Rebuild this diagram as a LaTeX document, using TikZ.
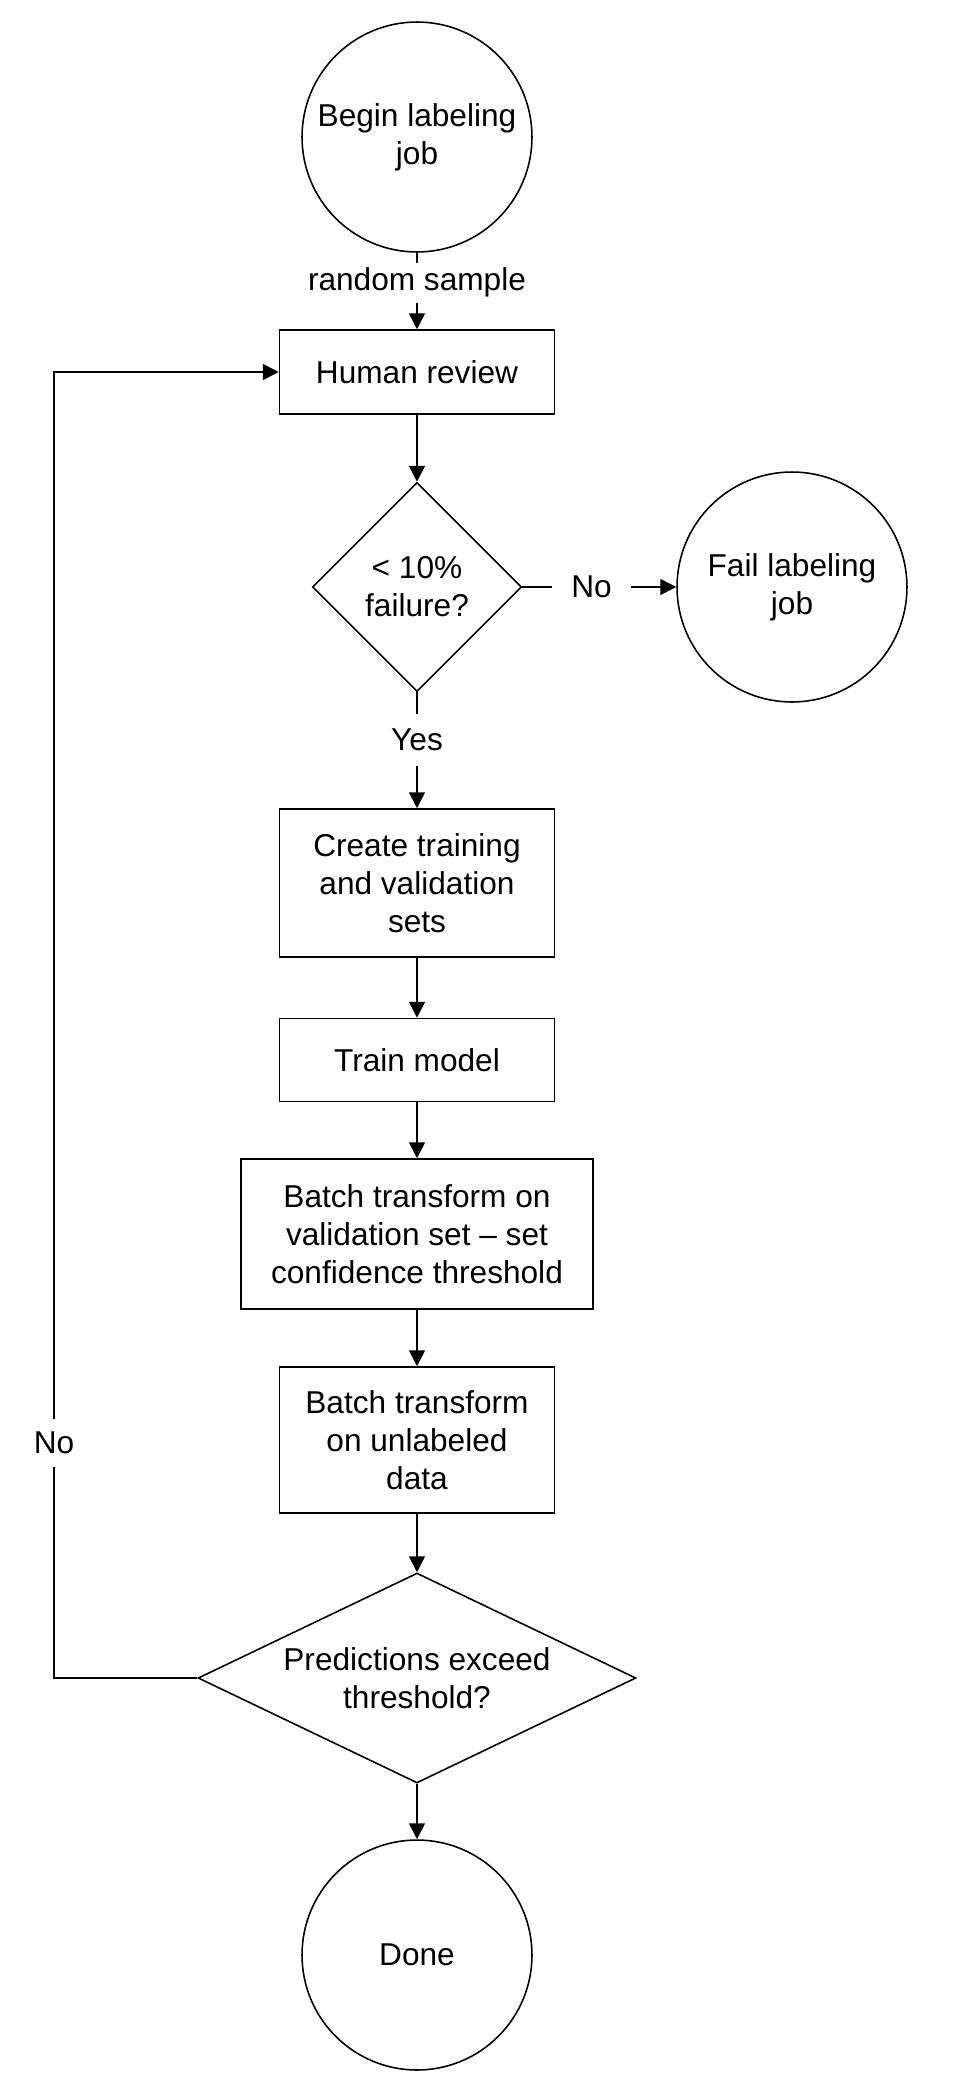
\documentclass[tikz,border=0pt]{standalone}
\usepackage{fontspec}
\setmainfont{Liberation Sans}
\usetikzlibrary{shapes.geometric}
\usetikzlibrary{arrows.meta}

\tikzset{
  every node/.style={font=\fontsize{18}{21.6}\selectfont, align=center},
  terminal/.style={draw, circle, minimum size=4.6cm, inner sep=0pt},
  process/.style={draw, rectangle, minimum width=5.5cm},
  decision/.style={draw, diamond, inner sep=0pt},
  flow/.style={-{Triangle[length=9pt,width=9pt]}},
  lbl/.style={fill=white, inner sep=3pt}
}

\begin{document}
\begin{tikzpicture}[x=0.02cm, y=-0.02cm, line width=0.9pt]
\useasboundingbox (0,0) rectangle (953,2096);
% shapes
\node[terminal] (begin) at (417,137) {Begin labeling\\job};
\node[process, minimum height=1.68cm] (review) at (417,372) {Human review};
\node[decision, minimum size=4.18cm] (check) at (417,587) {< 10\%\\failure?};
\node[terminal] (fail) at (792,587) {Fail labeling\\job};
\node[process, minimum height=2.96cm] (create) at (417,883) {Create training\\and validation\\sets};
\node[process, minimum height=1.66cm] (train) at (417,1060) {Train model};
\node[process, minimum width=7.04cm, minimum height=3cm] (batchval) at (417,1234) {Batch transform on\\validation set – set\\confidence threshold};
\node[process, minimum height=2.92cm] (batchun) at (417,1440) {Batch transform\\on unlabeled\\data};
\node[decision, aspect=2.09, minimum width=8.76cm, minimum height=4.2cm] (exceed) at (417,1678) {Predictions exceed\\threshold?};
\node[terminal] (done) at (417,1955) {Done};
\coordinate (loop) at (54,1678);
% connectors
\draw[flow] (begin) -- node[lbl, pos=0.39] {random sample} (review);
\draw[flow] (review) -- (check);
\draw[flow] (check) -- node[lbl, inner xsep=0.38cm, pos=0.45] {No} (fail);
\draw[flow] (check) -- node[lbl, inner ysep=0.3cm, pos=0.41] {Yes} (create);
\draw[flow] (create) -- (train);
\draw[flow] (train) -- (batchval);
\draw[flow] (batchval) -- (batchun);
\draw[flow] (batchun) -- (exceed);
\draw[flow] (exceed) -- (done);
\draw[flow] (exceed.west) -- (loop) |- node[lbl, inner ysep=0.26cm, pos=0.09] {No} (review.west);
\end{tikzpicture}
\end{document}
